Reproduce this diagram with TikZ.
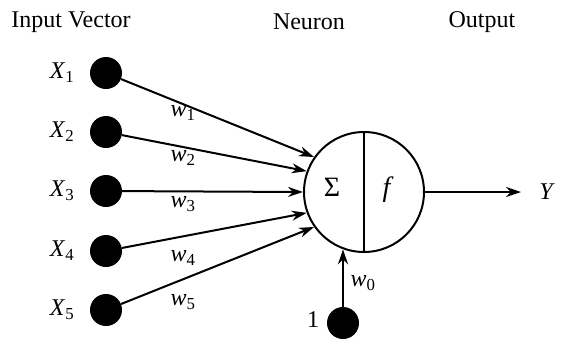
\documentclass[tikz,border=0pt]{standalone}
\usepackage{fontspec}
\setmainfont{Liberation Serif}
\usepackage{tikz}
\usetikzlibrary{positioning,arrows.meta}

\tikzset{
  inputdot/.style={circle,fill=black,minimum size=32pt,inner sep=0pt},
  wire/.style={-{Stealth[length=15pt,width=10pt]},line width=2pt}
}

\begin{document}
\begin{tikzpicture}[x=1pt,y=-1pt,font=\fontsize{24}{28}\selectfont]
    \useasboundingbox (0,0) rectangle (576,341);
    % headings
    \node (hin)  at (71,22)  {Input Vector};
    \node (hneu) at (309,22) {Neuron};
    \node (hout) at (482,22) {Output};
    % neuron
    \node[circle,draw,line width=2pt,minimum size=120pt,inner sep=0pt] (neuron) at (364,192) {};
    \draw[line width=2pt] (neuron.north) -- (neuron.south);
    \node[font=\fontsize{28}{32}\selectfont] (sum) at (332,187) {Σ};
    \node[font=\fontsize{28}{32}\selectfont] (act) at (388,190) {\textit{f}};
    % inputs
    \foreach \i/\y/\wy/\a in {1/73/113/145,2/132/158/160,3/191/204/180,4/251/258/200,5/310/302/215} {
      \node[inputdot] (x\i) at (106,\y) {};
      \node (lx\i) at (62,\y) {\textit{X}\textsubscript{\i}};
      \node (w\i) at (183,\wy) {\textit{w}\textsubscript{\i}};
      \draw[wire] (x\i) -- (neuron.\a);
    }
    % output
    \coordinate (yend) at (521,192);
    \draw[wire] (neuron.east) -- (yend);
    \node (yout) at (547,192) {\textit{Y}};
    % bias
    \node[inputdot] (one) at (343,323) {};
    \node (lone) at (313,320) {1};
    \draw[wire] (one) -- (one |- neuron.250);
    \node (w0) at (363,283) {\textit{w}\textsubscript{0}};
\end{tikzpicture}
\end{document}
